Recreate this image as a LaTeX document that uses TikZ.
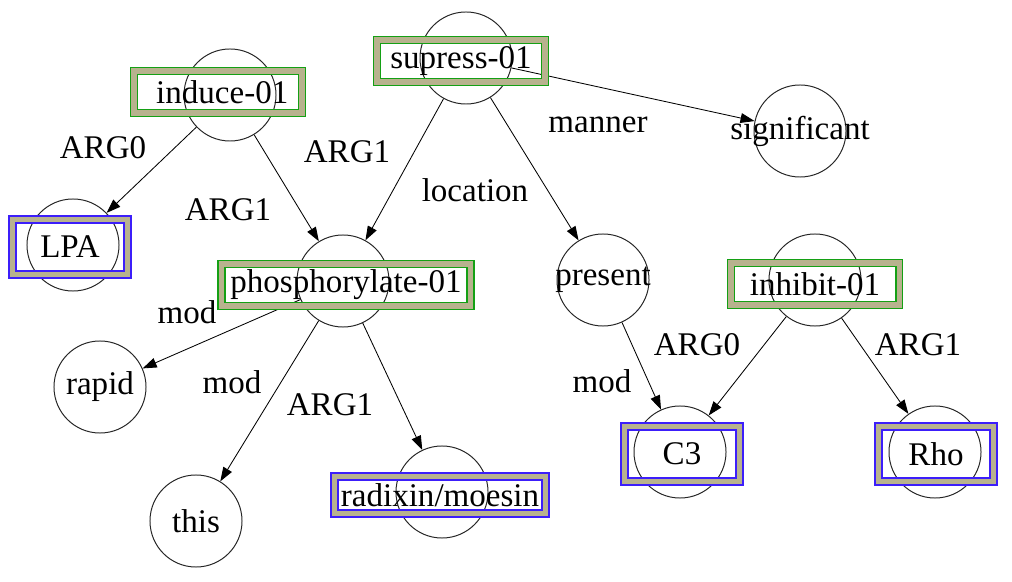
\documentclass[tikz,border=0pt]{standalone}
\usepackage{fontspec}
\setmainfont{Liberation Serif}
\usetikzlibrary{arrows.meta}

\definecolor{predgreen}{RGB}{20,160,20}
\definecolor{entblue}{RGB}{60,30,250}
\definecolor{khaki}{RGB}{184,178,142}

\tikzset{
	concept/.style = {circle, draw = black!85, line width = 0.7pt, minimum size = 2.3cm, inner sep = 0pt},
	framebox/.style = {rectangle, line width = 1.3pt, double = khaki, double distance = 3.6pt, inner sep = 0pt},
	predbox/.style = {framebox, draw = predgreen, minimum width = 4.2cm, minimum height = 1.05cm},
	entbox/.style = {framebox, draw = entblue, minimum width = 2.87cm, minimum height = 1.39cm},
	rel/.style = {-{Triangle[length = 10pt, width = 7pt]}, line width = 0.6pt},
	relname/.style = {inner sep = 0pt},
}

\begin{document}
\begin{tikzpicture}[x = 0.025cm, y = -0.025cm, font = \fontsize{23.5}{28}\selectfont]
	\useasboundingbox (0,0) rectangle (1012,582);

	% concept circles
	\node [concept] (induce) at (230,95) {};
	\node [concept] (lpa) at (73,245) {};
	\node [concept] (supress) at (466,58) {};
	\node [concept, label = {center:significant}] (significant) at (800,131) {};
	\node [concept] (phos) at (343,281) {};
	\node [concept, label = {center:present}] (present) at (603,280) {};
	\node [concept] (inhibit) at (815,280) {};
	\node [concept, label = {center:rapid}] (rapid) at (100,387) {};
	\node [concept, label = {center:this}] (this) at (196,521) {};
	\node [concept] (radixin) at (442,492) {};
	\node [concept] (c3) at (680,452) {};
	\node [concept] (rho) at (935,452) {};

	% relations
	\draw [rel] (induce) -- (lpa);
	\draw [rel] (induce) -- (phos);
	\draw [rel] (supress) -- (phos);
	\draw [rel] (supress) -- (present);
	\draw [rel] (supress) -- (significant);
	\draw [rel] (phos) -- (rapid);
	\draw [rel] (phos) -- (this);
	\draw [rel] (phos) -- (radixin);
	\draw [rel] (present) -- (c3);
	\draw [rel] (inhibit) -- (c3);
	\draw [rel] (inhibit) -- (rho);

	% relation names
	\node [relname] (arg0-lpa) at (103,148) {ARG0};
	\node [relname] (arg1-induce) at (228,210) {ARG1};
	\node [relname] (arg1-supress) at (347,152) {ARG1};
	\node [relname] (location) at (475,190) {location};
	\node [relname] (manner) at (598,125) {manner};
	\node [relname] (mod-rapid) at (187,312) {mod};
	\node [relname] (mod-this) at (232,382) {mod};
	\node [relname] (arg1-radixin) at (330,405) {ARG1};
	\node [relname] (mod-c3) at (602,381) {mod};
	\node [relname] (arg0-c3) at (697,345) {ARG0};
	\node [relname] (arg1-rho) at (918,345) {ARG1};

	% framed labels
	\node [predbox] (induce-t) at (218,92) {\hspace{6pt}induce-01};
	\node [predbox] (supress-t) at (461,61) {supress-01};
	\node [predbox, minimum width = 6.24cm] (phos-t) at (346,285) {phosphorylate-01};
	\node [predbox] (inhibit-t) at (815,284) {inhibit-01};
	\node [entbox] (lpa-t) at (70,247) {LPA};
	\node [entbox] (c3-t) at (682,454) {C3};
	\node [entbox] (rho-t) at (936,454) {Rho};
	\node [entbox, minimum width = 5.29cm, minimum height = 0.94cm] (radixin-t) at (440,495) {radixin/moesin};
\end{tikzpicture}
\end{document}
